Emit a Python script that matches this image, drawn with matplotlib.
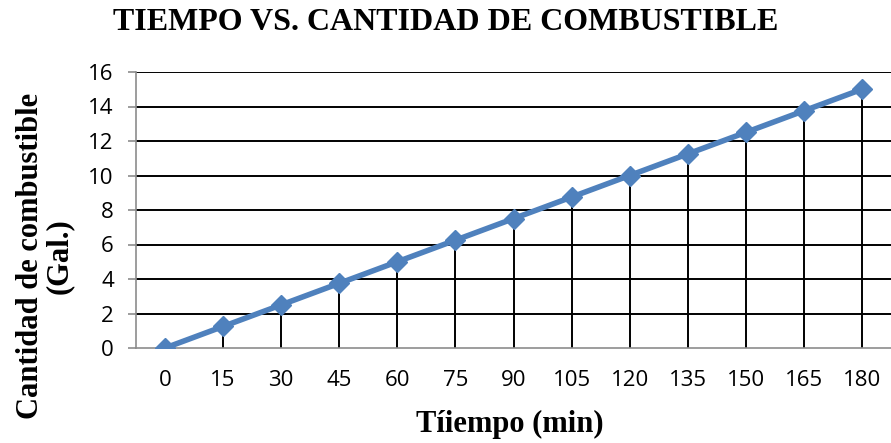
import matplotlib
matplotlib.use("Agg")
import matplotlib.pyplot as plt
import numpy as np

# datos
tiempo = [0, 15, 30, 45, 60, 75, 90, 105, 120, 135, 150, 165, 180]
combustible = [0, 1.25, 2.5, 3.75, 5, 6.25, 7.5, 8.75, 10, 11.25, 12.5, 13.75, 15]
yticks = [0, 2, 4, 6, 8, 10, 12, 14, 16]

fig = plt.figure(figsize=(8.91, 4.43), dpi=100)
ax = fig.add_axes([136/891, 1-348/443, 1-136/891, (348-72)/443])

x = np.arange(len(tiempo))

# lineas de cuadricula horizontales
for v in yticks[1:]:
    ax.axhline(v, color="black", lw=1.4, zorder=1)

# lineas de caida
ax.vlines(x, 0, combustible, color="black", lw=1.4, zorder=2)

ax.plot(x, combustible, color="#4F81BD", lw=4, marker="D", ms=10,
        markerfacecolor="#4F81BD", markeredgecolor="#4F81BD", zorder=3,
        solid_capstyle="round")

ax.set_xlim(-0.5, len(tiempo) - 0.5)
ax.set_ylim(0, 16)
ax.set_yticks(yticks)
ax.set_xticks(x)
ax.set_xticklabels([str(t) for t in tiempo])

for s in ["top", "right"]:
    ax.spines[s].set_visible(False)
for s in ["left", "bottom"]:
    ax.spines[s].set_color("#8c8c8c")
    ax.spines[s].set_linewidth(1.2)

ax.tick_params(axis="y", direction="out", length=6, color="#8c8c8c", width=1.2,
               labelsize=16, pad=10)
ax.tick_params(axis="x", length=0, labelsize=16, pad=16)
for lab in ax.get_xticklabels() + ax.get_yticklabels():
    lab.set_fontfamily("Open Sans")

fig.text(446/891, 1-22/443, "TIEMPO VS. CANTIDAD DE COMBUSTIBLE", ha="center", va="center",
         fontsize=23, fontweight="bold", family="Liberation Serif")
fig.text(510/891, 1-424/443, "Tíiempo (min)", ha="center", va="center",
         fontsize=22, fontweight="bold", family="Liberation Serif")
fig.text(45/891, 1-256/443, "Cantidad de combustible\n(Gal.)", ha="center", va="center",
         rotation=90, fontsize=22, fontweight="bold", family="Liberation Serif",
         linespacing=1.0)

fig.savefig("out.png", dpi=100)
